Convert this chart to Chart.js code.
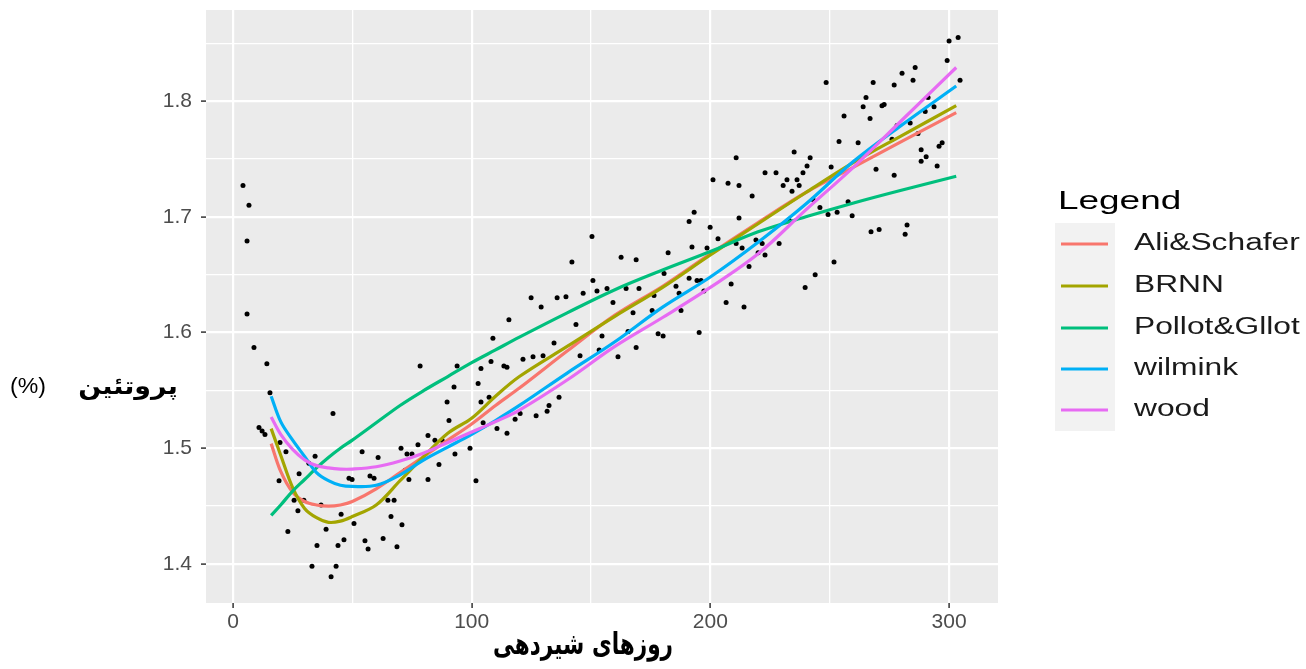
<!DOCTYPE html>
<html><head><meta charset="utf-8">
<script src="https://cdn.jsdelivr.net/npm/chart.js@4"></script>
<style>html,body{margin:0;padding:0;background:#fff;overflow:hidden}</style>
</head><body>
<canvas id="c" width="1306" height="669" style="display:block;width:1306px;height:669px"></canvas>
<script>
// ---- data ----
const days = [16,20,25,30,35,40,45,50,60,70,80,90,100,110,120,140,160,180,200,220,240,260,280,303];
const aliSchafer  = [1.504,1.480,1.462,1.454,1.451,1.450,1.451,1.454,1.465,1.479,1.493,1.507,1.521,1.537,1.552,1.584,1.615,1.640,1.668,1.695,1.721,1.743,1.765,1.790];
const brnn        = [1.517,1.494,1.466,1.448,1.440,1.436,1.437,1.441,1.451,1.472,1.493,1.513,1.526,1.545,1.562,1.588,1.614,1.639,1.667,1.694,1.721,1.747,1.770,1.796];
const pollotGllot = [1.442,1.451,1.463,1.473,1.483,1.492,1.500,1.507,1.522,1.537,1.550,1.562,1.574,1.585,1.596,1.617,1.637,1.654,1.670,1.687,1.700,1.712,1.723,1.735];
const wilmink     = [1.545,1.523,1.507,1.493,1.479,1.472,1.468,1.467,1.468,1.477,1.490,1.501,1.512,1.524,1.537,1.565,1.592,1.622,1.648,1.678,1.711,1.748,1.779,1.813];
const wood        = [1.527,1.512,1.499,1.490,1.485,1.483,1.482,1.482,1.484,1.489,1.496,1.505,1.514,1.523,1.533,1.559,1.588,1.613,1.639,1.668,1.706,1.743,1.783,1.829];

const obsDays = [4.2,6.7,5.9,5.9,8.8,14.2,15.5,10.9,12.2,13.4,19.7,22.2,19.3,27.7,25.6,29.7,27.2,23.0,34.4,31.8,
35.2,33.1,41.1,43.2,41.9,36.9,39.0,44.0,45.3,46.5,50.7,48.6,49.9,54.1,55.3,56.6,57.4,59.1,60.8,62.9,
64.9,67.5,66.2,68.7,70.8,70.4,72.9,73.7,72.1,75.0,77.5,81.7,81.7,84.6,86.3,87.6,89.7,90.5,92.6,93.9,
78.4,93.0,99.3,101.8,102.7,103.9,104.8,103.9,108.1,108.9,107.3,110.6,113.5,114.8,115.6,114.8,118.2,120.3,121.5,125.7,
127.0,129.9,131.6,132.4,134.5,136.6,124.9,129.1,135.8,139.5,143.7,145.4,146.7,142.0,150.4,150.8,152.5,159.2,167.6,175.6,
187.7,206.6,214.1,154.6,165.5,178.1,180.2,195.3,153.4,168.9,161.3,
210.8,235.1,241.8,222.9,227.5,238.8,240.5,250.6,201.1,207.4,212.0,230.5,232.1,236.3,237.2,234.2,217.5,243.0,193.2,191.1,
212.0,199.9,245.9,249.3,253.1,257.7,233.0,203.2,192.3,198.6,210.8,213.3,219.1,221.7,228.8,220.0,222.9,162.6,168.9,182.3,
180.6,216.2,251.8,243.9,208.7,191.1,194.4,196.1,185.6,186.9,197.3,156.7,164.7,170.1,176.4,239.7,
303.8,300.0,299.2,304.6,285.8,280.3,284.9,277.0,268.2,248.5,265.2,264.0,271.9,272.8,266.9,256.0,291.2,293.7,290.0,283.7,
287.0,278.2,276.1,253.9,261.9,288.3,290.4,288.3,295.8,297.1,295.0,269.4,277.0,259.4,282.4,281.6,267.3,270.7];
const obsProtein = [1.727,1.710,1.679,1.616,1.587,1.573,1.548,1.518,1.515,1.512,1.505,1.497,1.472,1.478,1.455,1.455,1.446,1.428,1.493,1.487,
1.416,1.398,1.389,1.398,1.530,1.451,1.430,1.416,1.443,1.421,1.435,1.474,1.473,1.497,1.420,1.413,1.476,1.474,1.492,1.422,
1.455,1.455,1.441,1.415,1.434,1.500,1.495,1.473,1.481,1.495,1.503,1.473,1.511,1.507,1.486,1.507,1.540,1.524,1.553,1.571,
1.571,1.495,1.500,1.472,1.556,1.540,1.522,1.569,1.575,1.595,1.544,1.517,1.571,1.570,1.611,1.513,1.525,1.530,1.577,1.579,
1.528,1.580,1.532,1.537,1.591,1.544,1.630,1.622,1.630,1.631,1.607,1.580,1.634,1.661,1.683,1.645,1.636,1.626,1.617,1.619,
1.619,1.626,1.622,1.597,1.601,1.599,1.597,1.600,1.585,1.587,1.579,
1.751,1.756,1.751,1.738,1.738,1.738,1.744,1.743,1.732,1.729,1.727,1.727,1.732,1.732,1.727,1.722,1.718,1.715,1.704,1.696,
1.699,1.691,1.708,1.702,1.704,1.713,1.697,1.681,1.674,1.673,1.677,1.673,1.680,1.677,1.677,1.669,1.667,1.665,1.663,1.669,
1.651,1.657,1.661,1.650,1.642,1.647,1.645,1.645,1.640,1.634,1.636,1.638,1.638,1.638,1.632,1.639,
1.855,1.852,1.835,1.818,1.829,1.824,1.818,1.814,1.816,1.816,1.803,1.795,1.796,1.797,1.785,1.787,1.803,1.795,1.791,1.781,
1.772,1.779,1.767,1.765,1.764,1.758,1.752,1.748,1.761,1.764,1.744,1.741,1.736,1.701,1.693,1.685,1.687,1.689];

const seriesNames  = ['Ali&Schafer','BRNN','Pollot&Gllot','wilmink','wood'];
const seriesValues = [aliSchafer, brnn, pollotGllot, wilmink, wood];
const seriesColors = ['#F8766D','#A3A500','#00BF7D','#00B0F6','#E76BF3'];

const xMajorTicks = [0,100,200,300];
const xMinorTicks = [50,150,250];
const yMajorTicks = [1.4,1.5,1.6,1.7,1.8];
const yMinorTicks = [1.45,1.55,1.65,1.75,1.85];

const xTitle = 'روزهای شیردهی';
const yTitle = 'پروتئین';
const yUnit = '(%)';
const legendTitle = 'Legend';

// ---- build ----
const isMajorX = v => xMajorTicks.some(t => Math.abs(t - v) < 1e-6);
const isMajorY = v => yMajorTicks.some(t => Math.abs(t - v) < 1e-6);

const datasets = [{
  label: 'obs', type: 'scatter',
  data: obsDays.map((d, i) => ({x: d, y: obsProtein[i]})),
  pointRadius: 2.5, pointHoverRadius: 2.5, backgroundColor: '#000', borderWidth: 0, order: 10
}];
seriesNames.forEach((n, k) => {
  datasets.push({
    label: n, type: 'line',
    data: days.map((d, i) => ({x: d, y: seriesValues[k][i]})),
    borderColor: seriesColors[k], backgroundColor: seriesColors[k],
    borderWidth: 3.2, pointRadius: 0, tension: 0.35, fill: false,
    order: 5 - k
  });
});

const panelBg = {
  id: 'panelBg',
  beforeDraw(chart) {
    const {ctx, chartArea: a} = chart;
    ctx.save(); ctx.fillStyle = '#EBEBEB';
    ctx.fillRect(a.left, a.top, a.right - a.left, a.bottom - a.top);
    ctx.restore();
  }
};

function sText(ctx, t, x, y, sx, align) {
  ctx.save(); ctx.translate(x, y); ctx.scale(sx, 1);
  ctx.textAlign = align; ctx.fillText(t, 0, 0); ctx.restore();
}

const decor = {
  id: 'decor',
  afterDraw(chart) {
    const ctx = chart.ctx;
    ctx.save();
    ctx.textBaseline = 'middle';
    ctx.fillStyle = '#000';
    // axis titles
    ctx.font = 'bold 30px "DejaVu Sans"';
    sText(ctx, xTitle, 583, 646, 0.72, 'center');
    ctx.font = 'bold 24px "DejaVu Sans"';
    sText(ctx, yTitle, 128, 388, 1.12, 'center');
    ctx.font = '22px "Liberation Sans"';
    sText(ctx, yUnit, 28, 387, 1.05, 'center');
    // legend
    ctx.fillStyle = '#000';
    ctx.font = '26px "Liberation Sans"';
    sText(ctx, legendTitle, 1058, 202, 1.42, 'left');
    ctx.fillStyle = '#F2F2F2';
    ctx.fillRect(1055, 223, 60, 208);
    const ys = [244, 286, 328, 369, 410];
    seriesNames.forEach((n, k) => {
      ctx.strokeStyle = seriesColors[k];
      ctx.lineWidth = 3;
      ctx.beginPath(); ctx.moveTo(1061, ys[k]); ctx.lineTo(1108, ys[k]); ctx.stroke();
      ctx.fillStyle = '#1A1A1A';
      ctx.font = '23px "Liberation Sans"';
      sText(ctx, n, 1134, ys[k], 1.38, 'left');
    });
    ctx.restore();
  }
};

new Chart(document.getElementById('c'), {
  data: {datasets},
  options: {
    responsive: false, animation: false, devicePixelRatio: 1,
    layout: {padding: {left: 0, right: 308, top: 10, bottom: 0}},
    plugins: {legend: {display: false}, tooltip: {enabled: false}},
    scales: {
      x: {
        type: 'linear', min: -11.3, max: 320.5,
        afterBuildTicks: s => { s.ticks = [...xMajorTicks, ...xMinorTicks].sort((a,b)=>a-b).map(v => ({value: v})); },
        afterFit: s => { s.height = 66; s.paddingLeft = 0; s.paddingRight = 0; },
        border: {display: false},
        grid: {
          color: '#FFFFFF',
          lineWidth: c => (c.tick && isMajorX(c.tick.value)) ? 2.2 : 1.3,
          tickLength: 5,
          tickColor: c => (c.tick && isMajorX(c.tick.value)) ? '#333333' : 'rgba(0,0,0,0)',
          tickWidth: 1.5
        },
        ticks: {
          autoSkip: false, maxRotation: 0, padding: 2,
          color: '#4D4D4D', font: {family: 'Liberation Sans', size: 21},
          callback: v => isMajorX(v) ? String(v) : ''
        }
      },
      y: {
        type: 'linear', min: 1.3663, max: 1.8787,
        afterBuildTicks: s => { s.ticks = [...yMajorTicks, ...yMinorTicks].sort((a,b)=>a-b).map(v => ({value: v})); },
        afterFit: s => { s.width = 206; s.paddingTop = 0; s.paddingBottom = 0; },
        border: {display: false},
        grid: {
          color: '#FFFFFF',
          lineWidth: c => (c.tick && isMajorY(c.tick.value)) ? 2.2 : 1.3,
          tickLength: 5,
          tickColor: c => (c.tick && isMajorY(c.tick.value)) ? '#333333' : 'rgba(0,0,0,0)',
          tickWidth: 1.5
        },
        ticks: {
          autoSkip: false, padding: 9,
          color: '#4D4D4D', font: {family: 'Liberation Sans', size: 21},
          callback: v => isMajorY(v) ? v.toFixed(1) : ''
        }
      }
    }
  },
  plugins: [panelBg, decor]
});
</script>
</body></html>
